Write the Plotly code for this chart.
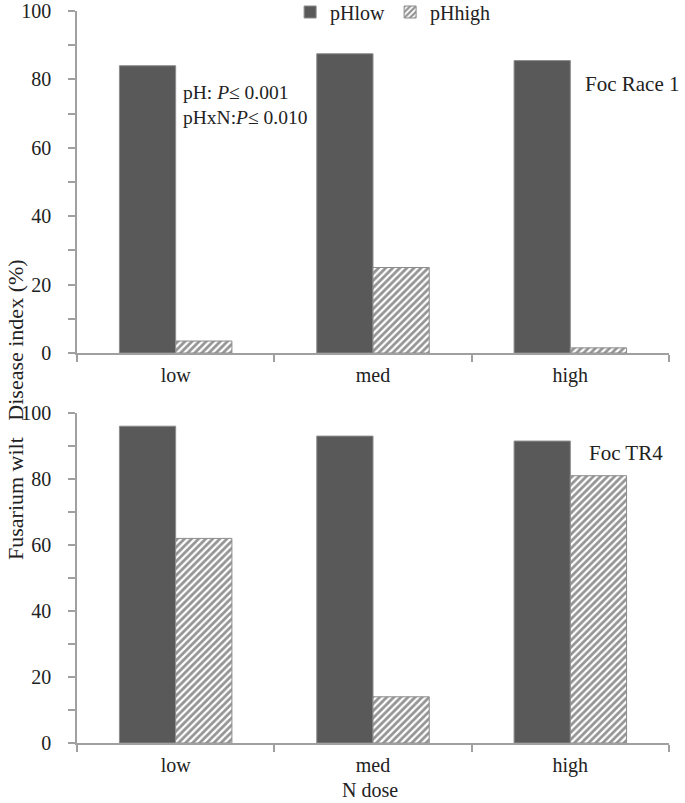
import plotly.graph_objects as go
from plotly.subplots import make_subplots

categories = ["low", "med", "high"]
race1_phlow = [84, 87.5, 85.5]
race1_phhigh = [3.5, 25, 1.5]
tr4_phlow = [96, 93, 91.5]
tr4_phhigh = [62, 14, 81]
y_ticks = [0, 20, 40, 60, 80, 100]

FONT = "Liberation Serif, Times New Roman, serif"
DARK = "#595959"
EDGE = "#8c8c8c"
AXIS = "#a0a0a0"

fig = make_subplots(rows=2, cols=1, shared_xaxes=False, vertical_spacing=0.08)

def add_pair(lo, hi, row, show):
    fig.add_trace(go.Bar(x=categories, y=lo, name="pHlow", marker=dict(color=DARK, line=dict(color=EDGE, width=1)),
                         showlegend=show, legendgroup="lo"), row=row, col=1)
    fig.add_trace(go.Bar(x=categories, y=hi, name="pHhigh",
                         marker=dict(color="white", line=dict(color=EDGE, width=1),
                                     pattern=dict(shape="/", fgcolor="#2a2a2a", bgcolor="white", size=5, solidity=0.55)),
                         showlegend=show, legendgroup="hi"), row=row, col=1)

add_pair(race1_phlow, race1_phhigh, 1, True)
add_pair(tr4_phlow, tr4_phhigh, 2, False)

W, H = 685, 803
l, r, t = 77, 16, 11
b = H - 743
ph = H - t - b
def dom(top_px, bot_px):
    return [1 - (bot_px - t) / ph, 1 - (top_px - t) / ph]

yax = dict(range=[0, 100], tickvals=y_ticks, ticks="outside", ticklen=7, tickcolor=AXIS, tickwidth=1.5,
           showline=True, linecolor=AXIS, linewidth=1.5, showgrid=False, zeroline=False,
           minor=dict(dtick=10, ticks="outside", ticklen=7, tickcolor=AXIS, tickwidth=1.5, showgrid=False),
           tickfont=dict(family=FONT, size=20, color="#222"), ticklabelstandoff=13, automargin=False)
xax = dict(ticks="outside", tickson="boundaries", ticklen=7, tickcolor=AXIS, tickwidth=1.5,
           showline=True, linecolor=AXIS, linewidth=1.5, showgrid=False,
           tickfont=dict(family=FONT, size=20, color="#222"), ticklabelstandoff=3, automargin=False)

fig.update_layout(
    width=W, height=H,
    margin=dict(l=l, r=r, t=t, b=b, autoexpand=False),
    paper_bgcolor="white", plot_bgcolor="white",
    barmode="group", bargap=0.43, bargroupgap=0,
    font=dict(family=FONT, size=18, color="#222"),
    legend=dict(orientation="h", x=0.36, y=1 - 1 / ph, xanchor="left", yanchor="middle",
                font=dict(family=FONT, size=20, color="#222"), bgcolor="rgba(0,0,0,0)",
                itemwidth=30, tracegroupgap=0),
    xaxis=dict(**xax, domain=[0, 1]),
    xaxis2=dict(**xax, domain=[0, 1]),
    yaxis=dict(**yax, domain=dom(11, 353)),
    yaxis2=dict(**yax, domain=dom(413, 743)),
)

fig.add_annotation(text="N dose", xref="paper", yref="paper", x=(370 - 77) / 592, y=-(790 - 743) / ph,
                   xanchor="center", yanchor="middle", showarrow=False,
                   font=dict(family=FONT, size=20, color="#222"))
fig.add_annotation(text="pH: <i>P</i>≤ 0.001<br>pHxN:<i>P</i>≤ 0.010", xref="paper", yref="y", x=0.176, y=72.5,
                   xanchor="left", yanchor="middle", align="left", showarrow=False,
                   font=dict(family=FONT, size=19.5, color="#222"))
fig.add_annotation(text="Foc Race 1", xref="paper", yref="y", x=0.855, y=78.7,
                   xanchor="left", yanchor="middle", showarrow=False,
                   font=dict(family=FONT, size=21, color="#222"))
fig.add_annotation(text="Foc TR4", xref="paper", yref="y2", x=0.862, y=88,
                   xanchor="left", yanchor="middle", showarrow=False,
                   font=dict(family=FONT, size=21, color="#222"))
fig.add_annotation(text="Fusarium wilt\u00a0\u00a0\u00a0Disease index (%)", xref="paper", yref="paper",
                   x=-(77 - 15) / 592, y=1 - (410 - t) / ph, xanchor="center", yanchor="middle",
                   textangle=-90, showarrow=False, font=dict(family=FONT, size=22, color="#222"))

fig.write_html("out.html", config={"displayModeBar": False},
               post_script="document.body.style.margin='0';document.body.style.overflow='hidden';")
